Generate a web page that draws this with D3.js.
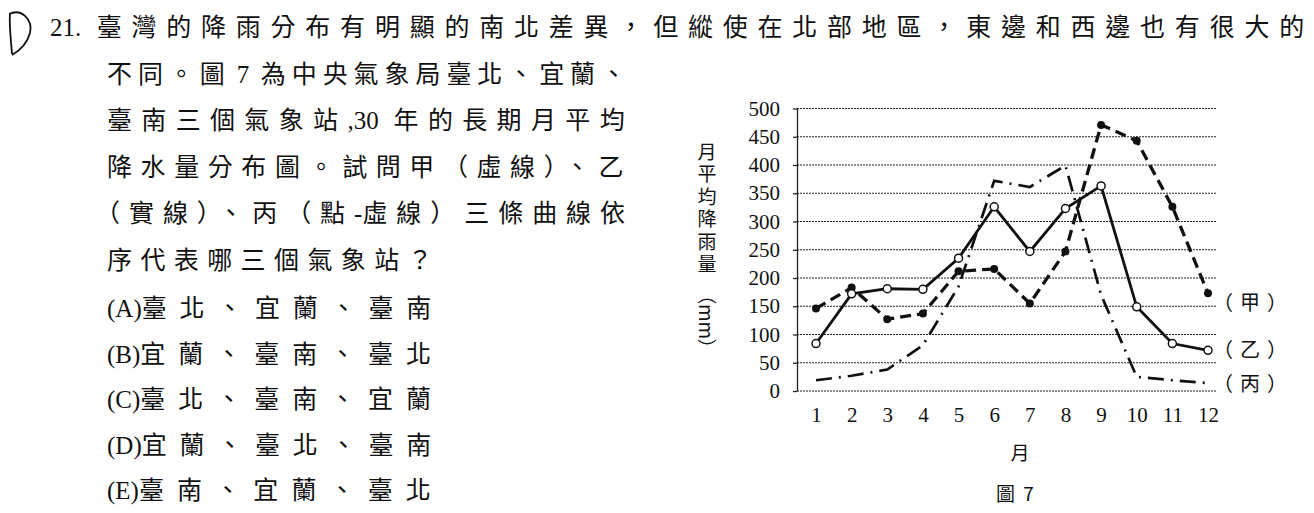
<!DOCTYPE html>
<html>
<head>
<meta charset="utf-8">
<script src="https://cdn.jsdelivr.net/npm/d3@7"></script>
<style>
  body { margin: 0; background: #fff; }
  svg { display: block; }
  .cjk { font-family: "Noto Sans CJK TC", "Noto Sans CJK SC", sans-serif; }
  .serif { font-family: "Liberation Serif", "DejaVu Serif", serif; }
</style>
</head>
<body>
<div id="chart"></div>
<script>
// monthly mean rainfall (mm)
let months = [1, 2, 3, 4, 5, 6, 7, 8, 9, 10, 11, 12];
let jiaValues = [146, 183, 127, 137, 212, 216, 155, 247, 471, 443, 326, 173];   // 甲 dashed
let yiValues = [84, 172, 181, 180, 235, 326, 247, 323, 363, 149, 84, 72];       // 乙 solid
let bingValues = [19, 27, 38, 81, 185, 372, 361, 399, 170, 25, 19, 14];         // 丙 dash-dot
let yTicks = [0, 50, 100, 150, 200, 250, 300, 350, 400, 450, 500];
let seriesLabels = ["（甲）", "（乙）", "（丙）"];

let questionLines = [
    "21. 臺灣的降雨分布有明顯的南北差異，但縱使在北部地區，東邊和西邊也有很大的",
    "不同。圖 7 為中央氣象局臺北、宜蘭、",
    "臺南三個氣象站,30 年的長期月平均",
    "降水量分布圖。試問甲（虛線）、乙",
    "（實線）、丙（點-虛線）三條曲線依",
    "序代表哪三個氣象站？"
];
let optionKeys = ["(A)", "(B)", "(C)", "(D)", "(E)"];
let optionTexts = ["臺北、宜蘭、臺南", "宜蘭、臺南、臺北", "臺北、臺南、宜蘭", "宜蘭、臺北、臺南", "臺南、宜蘭、臺北"];

let width = 1314,
    height = 513;

let svg = d3.select("#chart").append("svg")
    .attr("width", width)
    .attr("height", height);

svg.append("rect").attr("width", width).attr("height", height).attr("fill", "#fff");

// handwritten answer mark
svg.append("path")
    .attr("d", "M10 13 C9 26 11 40 12 54 M9 14 C22 8 33 20 30 33 C27 44 19 51 12 55")
    .attr("fill", "none")
    .attr("stroke", "#111")
    .attr("stroke-width", 1.8);

// one line of mixed text: latin runs in serif, CJK runs spaced out to reach the wanted width
function textLine(x0, yPos, str, target) {
    let t = svg.append("text")
        .attr("x", x0)
        .attr("y", yPos)
        .attr("font-size", 25)
        .attr("fill", "#111");
    let runs = str.match(/[\x00-\x7F]+|[^\x00-\x7F]+/g);
    let n = 0,
        extra = 0;
    runs.forEach(function (r) {
        let latin = /^[\x00-\x7F]+$/.test(r);
        if (!latin) {
            t.append("tspan").attr("class", "cjk").text(r);
            n += r.length;
            return;
        }
        let ts = t.append("tspan").attr("class", "serif").text(r.trim());
        if (r[0] === " ") { ts.attr("dx", 6); extra += 6; }
        if (r[r.length - 1] === " ") {
            // trailing space kept as its own spaced-out blank
            t.append("tspan").attr("class", "cjk").text("\u00A0");
            n += 1;
        }
    });
    let w = t.node().getComputedTextLength();
    let ls = (target - w - extra) / n;
    t.selectAll("tspan.cjk").style("letter-spacing", ls + "px");
    return t;
}

let lineStarts = [50, 107, 107, 107, 95, 107];
let lineEnds = [1314, 632, 634, 632, 634, 441];
questionLines.forEach(function (d, i) {
    textLine(lineStarts[i], 36 + i * 46.5, d, lineEnds[i] - lineStarts[i]);
});

optionKeys.forEach(function (d, i) {
    textLine(107, 317 + i * 45.5, d + optionTexts[i], 337);
});

// chart
let x = d3.scalePoint()
    .domain(months)
    .range([816, 1208]);
let y = d3.scaleLinear()
    .domain([0, 500])
    .range([391, 108.5]);

let plotLeft = 797,
    plotRight = 1217;

svg.selectAll(".grid")
    .data(yTicks)
    .enter().append("line")
    .attr("class", "grid")
    .attr("x1", plotLeft)
    .attr("x2", plotRight)
    .attr("y1", function (d) { return y(d); })
    .attr("y2", function (d) { return y(d); })
    .attr("stroke", "#222")
    .attr("stroke-width", 1.2)
    .attr("stroke-dasharray", "2,1");

let yAxis = svg.append("g")
    .attr("transform", "translate(" + plotLeft + ",0)")
    .call(d3.axisLeft(y).tickValues(yTicks).tickSize(4).tickPadding(13).tickSizeOuter(0));
yAxis.select(".domain").attr("stroke", "#222").attr("stroke-width", 1.3);
yAxis.selectAll(".tick line").attr("stroke", "#222").attr("stroke-width", 1.3);
yAxis.selectAll(".tick text")
    .attr("class", "serif")
    .attr("font-size", 21)
    .attr("fill", "#111");

let xAxis = svg.append("g")
    .attr("transform", "translate(0,391)")
    .call(d3.axisBottom(x).tickSize(0).tickPadding(16));
xAxis.select(".domain").remove();
xAxis.selectAll(".tick text")
    .attr("class", "serif")
    .attr("font-size", 21)
    .attr("fill", "#111");

// y axis title, written top to bottom
let yTitle = svg.append("text")
    .attr("class", "cjk")
    .attr("x", 707)
    .attr("y", 142)
    .attr("font-size", 19)
    .attr("fill", "#111")
    .style("writing-mode", "vertical-rl");
yTitle.append("tspan").style("letter-spacing", "3.5px").text("月平均降雨量");
yTitle.append("tspan").attr("dy", 8).text("（mm）");

svg.append("text")
    .attr("class", "cjk")
    .attr("x", 1020).attr("y", 460)
    .attr("text-anchor", "middle")
    .attr("font-size", 19)
    .attr("fill", "#111")
    .text("月");

svg.append("text")
    .attr("class", "cjk")
    .attr("x", 1016).attr("y", 501)
    .attr("text-anchor", "middle")
    .attr("font-size", 19)
    .attr("fill", "#111")
    .style("letter-spacing", "2px")
    .text("圖 7");

// lines
let line = d3.line()
    .x(function (d, i) { return x(months[i]); })
    .y(function (d) { return y(d); });

svg.append("path")
    .datum(bingValues)
    .attr("d", line)
    .attr("fill", "none")
    .attr("stroke", "#111")
    .attr("stroke-width", 2.7)
    .attr("stroke-dasharray", "16,7,2,7");

svg.append("path")
    .datum(jiaValues)
    .attr("d", line)
    .attr("fill", "none")
    .attr("stroke", "#111")
    .attr("stroke-width", 3.3)
    .attr("stroke-dasharray", "11,6");

svg.selectAll(".jiaDot")
    .data(jiaValues)
    .enter().append("circle")
    .attr("class", "jiaDot")
    .attr("cx", function (d, i) { return x(months[i]); })
    .attr("cy", function (d) { return y(d); })
    .attr("r", 4)
    .attr("fill", "#111");

svg.append("path")
    .datum(yiValues)
    .attr("d", line)
    .attr("fill", "none")
    .attr("stroke", "#111")
    .attr("stroke-width", 2.8);

svg.selectAll(".yiDot")
    .data(yiValues)
    .enter().append("circle")
    .attr("class", "yiDot")
    .attr("cx", function (d, i) { return x(months[i]); })
    .attr("cy", function (d) { return y(d); })
    .attr("r", 4)
    .attr("fill", "#fff")
    .attr("stroke", "#111")
    .attr("stroke-width", 1.5);

// series labels on the right
svg.selectAll(".slabel")
    .data(seriesLabels)
    .enter().append("text")
    .attr("class", "slabel cjk")
    .attr("x", 1213)
    .attr("y", function (d, i) { return [310, 357, 391][i]; })
    .attr("font-size", 20)
    .attr("fill", "#111")
    .style("letter-spacing", "7px")
    .text(function (d) { return d; });
</script>
</body>
</html>
